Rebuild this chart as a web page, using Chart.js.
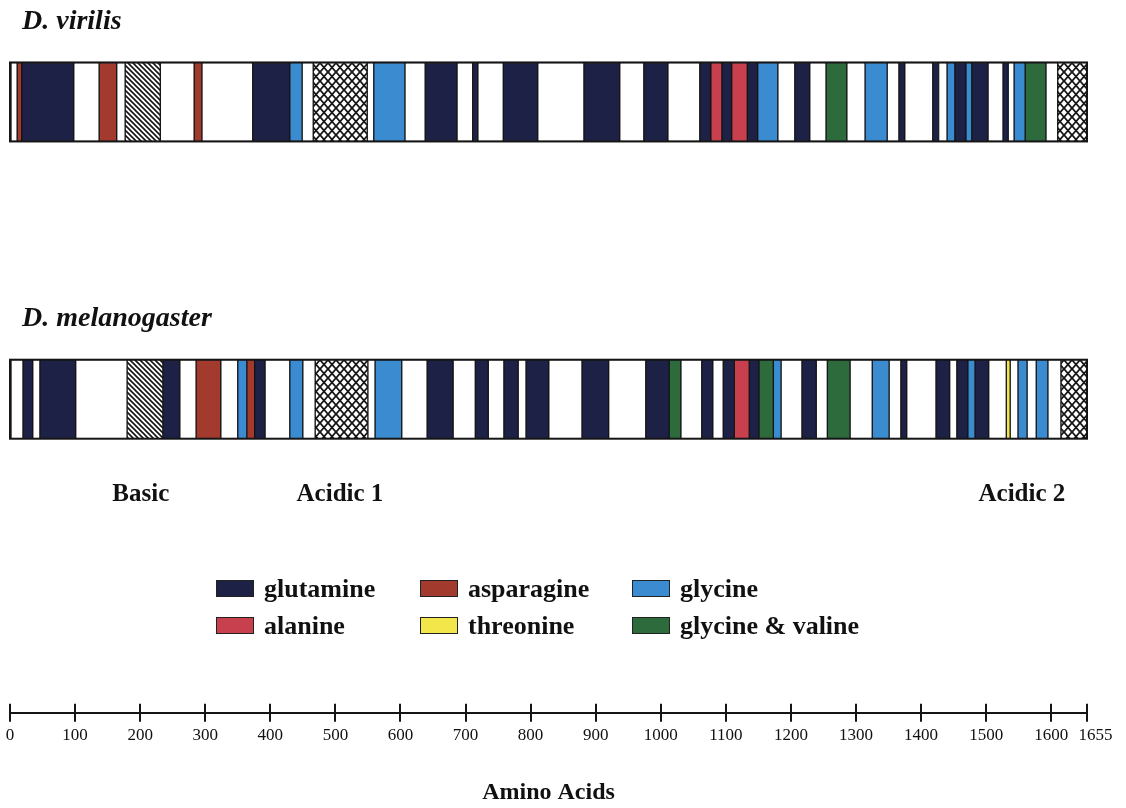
<!DOCTYPE html>
<html>
<head>
<meta charset="utf-8">
<script src="https://cdn.jsdelivr.net/npm/chart.js@4.4.1/dist/chart.umd.min.js"></script>
<style>
  body { margin: 0; background: #fff; }
  #wrap { position: relative; width: 1126px; height: 808px; }
  #legend {
    position: absolute; left: 216px; top: 576px;
    display: grid; grid-template-columns: 204px 212px auto; row-gap: 12px;
    font: bold 26px "Liberation Serif", serif; color: #111;
  }
  .item { display: flex; align-items: center; height: 25px; }
  .sw { width: 36px; height: 15px; border: 1px solid #222; margin-right: 10px; }
</style>
</head>
<body>
<div id="wrap">
  <canvas id="domains" width="1126" height="808"></canvas>
  <div id="legend"></div>
</div>
<script>
const species = ['D. virilis', 'D. melanogaster'];
const residueCodes = ['Q', 'N', 'G', 'A', 'T', 'V'];
const residueNames = ['glutamine', 'asparagine', 'glycine', 'alanine', 'threonine', 'glycine & valine'];
const residueColors = ['#1d2146', '#a23a2e', '#3b8bd0', '#c83f4d', '#f2e64b', '#2d6a3c'];

// segment edges along the protein (amino acid position)
// kinds: '' plain, 'B' basic region, 'X' acidic region, else residue code
const virilisEdges = [0, 11, 18, 98, 137, 164, 177, 231, 283, 295, 373, 430, 449, 466, 549, 559, 607, 638, 687, 711,
  719, 758, 811, 882, 937, 974, 1011, 1060, 1077, 1094, 1109, 1133, 1149, 1180, 1206, 1229, 1254, 1286, 1314, 1348,
  1366, 1375, 1418, 1427, 1440, 1452, 1469, 1478, 1503, 1526, 1534, 1543, 1560, 1592, 1610, 1655];
const virilisKinds = ['', 'N', 'Q', '', 'N', '', 'B', '', 'N', '',
  'Q', 'G', '', 'X', '', 'G', '', 'Q', '', 'Q',
  '', 'Q', '', 'Q', '', 'Q', '', 'Q', 'A', 'Q',
  'A', 'Q', 'G', '', 'Q', '', 'V', '', 'G', '',
  'Q', '', 'Q', '', 'G', 'Q', 'G', 'Q', '', 'Q',
  '', 'G', 'V', '', 'X'];

const melanoEdges = [0, 20, 35, 46, 101, 180, 235, 261, 286, 324, 350, 364, 376, 392, 430, 450, 469, 550, 561, 602,
  641, 681, 715, 735, 759, 781, 793, 828, 879, 920, 977, 1013, 1031, 1063, 1080, 1096, 1113, 1136, 1151, 1173,
  1185, 1217, 1239, 1256, 1291, 1325, 1351, 1369, 1378, 1423, 1444, 1455, 1472, 1483, 1504, 1531, 1537, 1549, 1563, 1577,
  1595, 1615, 1655];
const melanoKinds = ['', 'Q', '', 'Q', '', 'B', 'Q', '', 'N', '',
  'G', 'N', 'Q', '', 'G', '', 'X', '', 'G', '',
  'Q', '', 'Q', '', 'Q', '', 'Q', '', 'Q', '',
  'Q', 'V', '', 'Q', '', 'Q', 'A', 'Q', 'V', 'G',
  '', 'Q', '', 'V', '', 'G', '', 'Q', '', 'Q',
  '', 'Q', 'G', 'Q', '', 'T', '', 'G', '', 'G',
  '', 'X'];

const regionLabels = ['Basic', 'Acidic 1', 'Acidic 2'];
const regionCenters = [201, 507, 1555];
const tickValues = [0, 100, 200, 300, 400, 500, 600, 700, 800, 900, 1000, 1100, 1200, 1300, 1400, 1500, 1600, 1655];

const serif = '"Liberation Serif", "Times New Roman", serif';

function makePattern(w, h, draw) {
  const c = document.createElement('canvas');
  c.width = w; c.height = h;
  const g = c.getContext('2d');
  g.fillStyle = '#fff';
  g.fillRect(0, 0, w, h);
  g.strokeStyle = '#151515';
  draw(g, w, h);
  return g.createPattern(c, 'repeat');
}

const stripes = makePattern(5, 5, (g, w, h) => {
  g.lineWidth = 1.6;
  g.beginPath();
  g.moveTo(-1, -1); g.lineTo(w + 1, h + 1);
  g.moveTo(-1, h - 1); g.lineTo(1, h + 1);
  g.moveTo(w - 1, -1); g.lineTo(w + 1, 1);
  g.stroke();
});

const crossHatch = makePattern(8, 9, (g, w, h) => {
  g.lineWidth = 1.8;
  g.beginPath();
  g.moveTo(0, 0); g.lineTo(w, h);
  g.moveTo(w, 0); g.lineTo(0, h);
  g.stroke();
});

function fillFor(kind) {
  if (kind === 'B') return stripes;
  if (kind === 'X') return crossHatch;
  const i = residueCodes.indexOf(kind);
  return i >= 0 ? residueColors[i] : '#ffffff';
}

function rowDataset(name, row, edges, kinds) {
  return {
    label: name,
    data: kinds.map((k, j) => ({ x: [edges[j], edges[j + 1]], y: row })),
    backgroundColor: kinds.map(fillFor),
    borderColor: '#151515',
    borderWidth: 1,
    borderSkipped: false,
  };
}

const rows = [
  { edges: virilisEdges, kinds: virilisKinds },
  { edges: melanoEdges, kinds: melanoKinds },
];

const BAR = 79;

const decorPlugin = {
  id: 'decor',
  afterDraw(chart) {
    const ctx = chart.ctx;
    const xs = chart.scales.x;
    const ys = chart.scales.y;
    ctx.save();

    // outline around each protein + species name
    rows.forEach((r, i) => {
      const yc = ys.getPixelForValue(i + 1);
      const x0 = xs.getPixelForValue(r.edges[0]);
      const x1 = xs.getPixelForValue(r.edges[r.edges.length - 1]);
      ctx.strokeStyle = '#151515';
      ctx.lineWidth = 2;
      ctx.strokeRect(x0, yc - BAR / 2, x1 - x0, BAR);

      ctx.fillStyle = '#111';
      ctx.font = 'italic bold 28px ' + serif;
      ctx.textAlign = 'left';
      ctx.textBaseline = 'middle';
      ctx.fillText(species[i], x0 + 12, yc - 80);
    });

    // domain names under the second protein
    const yLab = ys.getPixelForValue(2) + 95;
    ctx.font = 'bold 25px ' + serif;
    ctx.textAlign = 'center';
    regionLabels.forEach((t, i) => {
      ctx.fillText(t, xs.getPixelForValue(regionCenters[i]), yLab);
    });

    // upper half of the axis tick marks
    ctx.strokeStyle = '#151515';
    ctx.lineWidth = 2;
    const yb = chart.chartArea.bottom;
    xs.ticks.forEach(t => {
      const px = Math.round(xs.getPixelForValue(t.value));
      ctx.beginPath();
      ctx.moveTo(px, yb - 9);
      ctx.lineTo(px, yb);
      ctx.stroke();
    });
    ctx.restore();
  }
};

new Chart(document.getElementById('domains'), {
  type: 'bar',
  data: {
    datasets: rows.map((r, i) => rowDataset(species[i], i + 1, r.edges, r.kinds)),
  },
  options: {
    indexAxis: 'y',
    responsive: false,
    animation: false,
    grouped: false,
    barThickness: BAR,
    maxBarThickness: BAR,
    layout: { padding: { left: 10, right: 39, top: 0, bottom: 0 } },
    plugins: {
      legend: { display: false },
      tooltip: { enabled: false },
    },
    scales: {
      y: {
        type: 'linear',
        reverse: true,
        offset: false,
        min: 0.657,
        max: 3.055,
        display: false,
      },
      x: {
        type: 'linear',
        min: 0,
        max: 1655,
        afterBuildTicks: scale => { scale.ticks = tickValues.map(v => ({ value: v })); },
        grid: { display: true, drawOnChartArea: false, drawTicks: true, tickLength: 9, color: '#151515', lineWidth: 2 },
        border: { display: true, color: '#151515', width: 2 },
        ticks: {
          autoSkip: false,
          maxRotation: 0,
          padding: 4,
          color: '#111',
          font: { family: serif, size: 17 },
          // the last label sits a little to the right of its tick
          callback: v => (v === 1655 ? '\u2002\u2002' + v : String(v)),
        },
        title: {
          display: true,
          text: 'Amino Acids',
          color: '#111',
          font: { family: serif, size: 24, weight: 'bold' },
          padding: { top: 28, bottom: 1 },
        },
      },
    },
  },
  plugins: [decorPlugin],
});

// legend: 3 columns x 2 rows
const legendEl = document.getElementById('legend');
residueNames.forEach((name, i) => {
  const item = document.createElement('div');
  item.className = 'item';
  const sw = document.createElement('span');
  sw.className = 'sw';
  sw.style.background = residueColors[i];
  const tx = document.createElement('span');
  tx.textContent = name;
  item.appendChild(sw);
  item.appendChild(tx);
  legendEl.appendChild(item);
});
</script>
</body>
</html>
